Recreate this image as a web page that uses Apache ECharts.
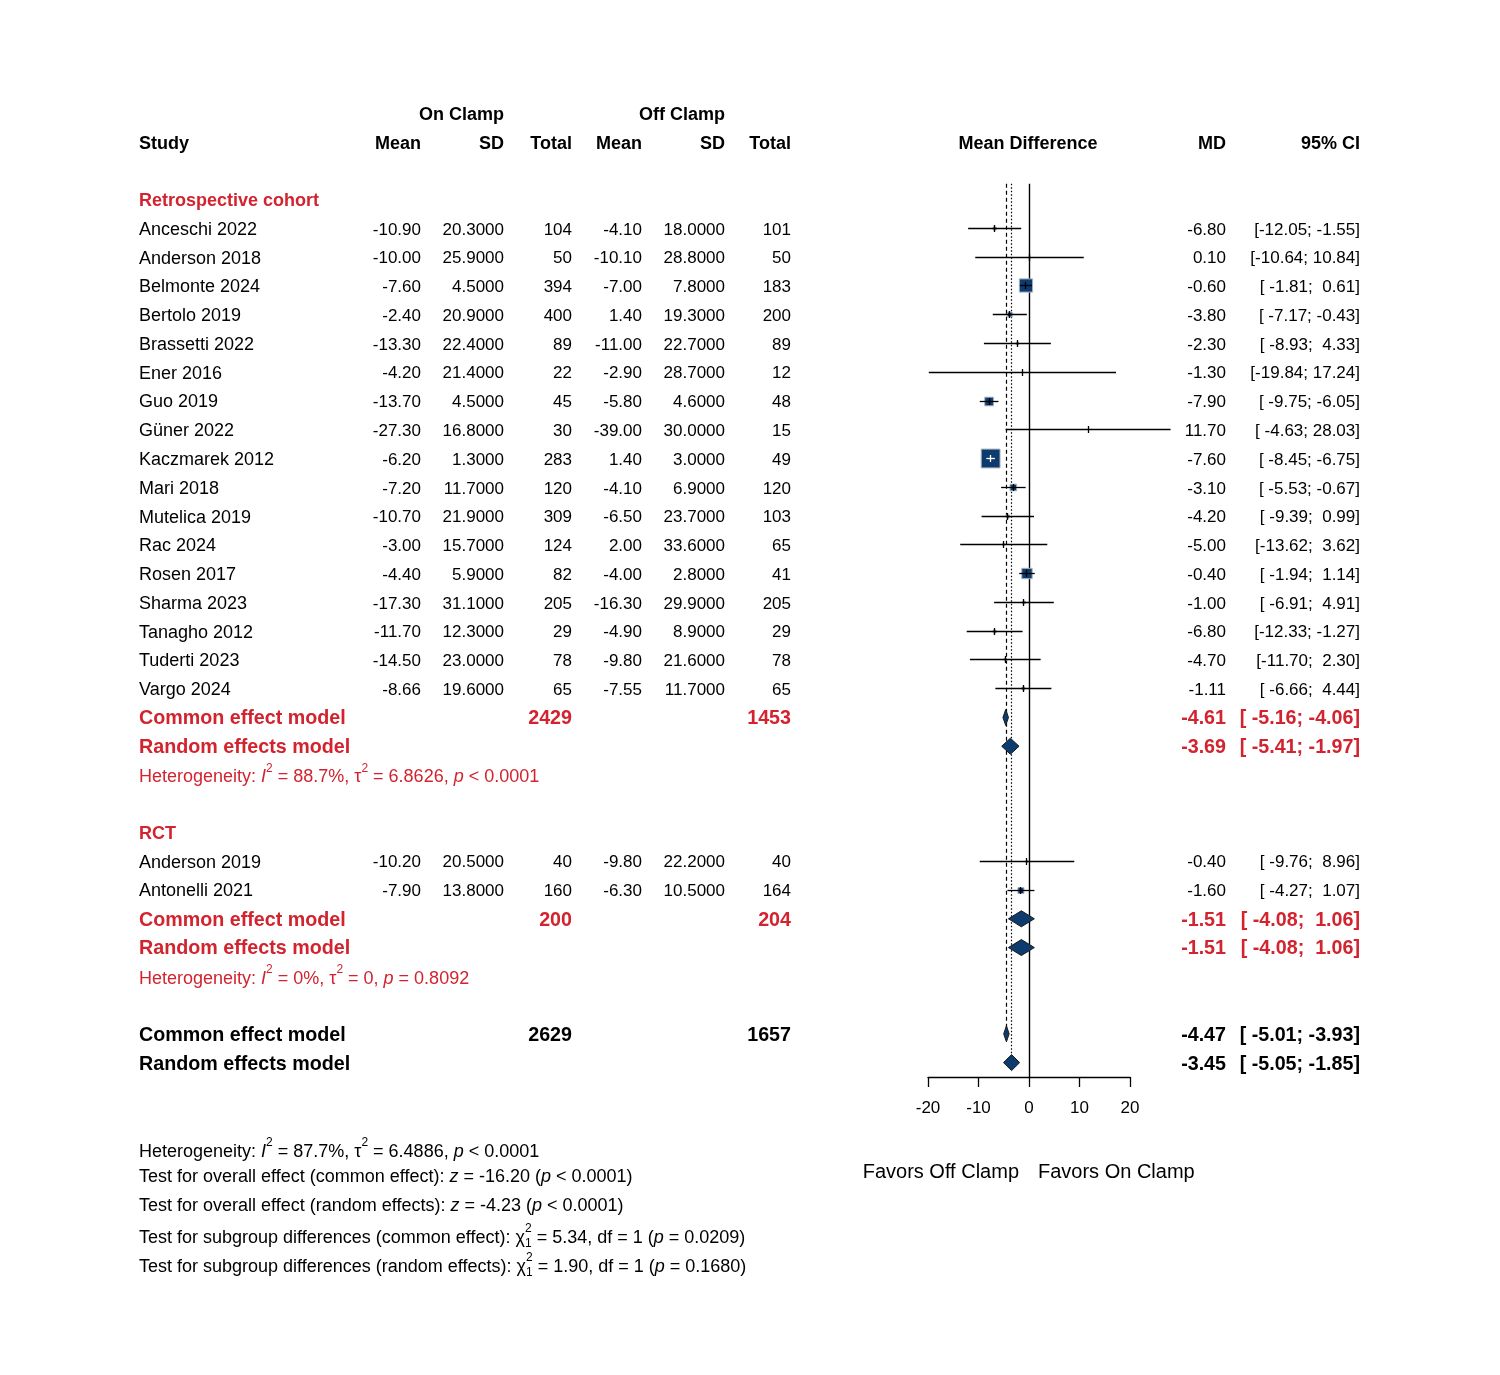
<!DOCTYPE html>
<html>
<head>
<meta charset="utf-8">
<script src="https://cdn.jsdelivr.net/npm/echarts@6/dist/echarts.min.js"></script>
<style>
html, body { margin: 0; background: #fff; }
#main { width: 1500px; height: 1375px; }
</style>
</head>
<body>
<div id="main"></div>
<script>
// ---- data ----
var studies = ['Anceschi 2022', 'Anderson 2018', 'Belmonte 2024', 'Bertolo 2019', 'Brassetti 2022',
  'Ener 2016', 'Guo 2019', 'Güner 2022', 'Kaczmarek 2012', 'Mari 2018', 'Mutelica 2019', 'Rac 2024',
  'Rosen 2017', 'Sharma 2023', 'Tanagho 2012', 'Tuderti 2023', 'Vargo 2024',
  'Anderson 2019', 'Antonelli 2021'];
var studyGroup = [0, 0, 0, 0, 0, 0, 0, 0, 0, 0, 0, 0, 0, 0, 0, 0, 0, 1, 1];
var onMean = [-10.90, -10.00, -7.60, -2.40, -13.30, -4.20, -13.70, -27.30, -6.20, -7.20, -10.70, -3.00,
  -4.40, -17.30, -11.70, -14.50, -8.66, -10.20, -7.90];
var onSD = [20.3, 25.9, 4.5, 20.9, 22.4, 21.4, 4.5, 16.8, 1.3, 11.7, 21.9, 15.7, 5.9, 31.1, 12.3, 23.0,
  19.6, 20.5, 13.8];
var onTotal = [104, 50, 394, 400, 89, 22, 45, 30, 283, 120, 309, 124, 82, 205, 29, 78, 65, 40, 160];
var offMean = [-4.10, -10.10, -7.00, 1.40, -11.00, -2.90, -5.80, -39.00, 1.40, -4.10, -6.50, 2.00,
  -4.00, -16.30, -4.90, -9.80, -7.55, -9.80, -6.30];
var offSD = [18.0, 28.8, 7.8, 19.3, 22.7, 28.7, 4.6, 30.0, 3.0, 6.9, 23.7, 33.6, 2.8, 29.9, 8.9, 21.6,
  11.7, 22.2, 10.5];
var offTotal = [101, 50, 183, 200, 89, 12, 48, 15, 49, 120, 103, 65, 41, 205, 29, 78, 65, 40, 164];
var md = [-6.80, 0.10, -0.60, -3.80, -2.30, -1.30, -7.90, 11.70, -7.60, -3.10, -4.20, -5.00, -0.40,
  -1.00, -6.80, -4.70, -1.11, -0.40, -1.60];
var ciLow = [-12.05, -10.64, -1.81, -7.17, -8.93, -19.84, -9.75, -4.63, -8.45, -5.53, -9.39, -13.62,
  -1.94, -6.91, -12.33, -11.70, -6.66, -9.76, -4.27];
var ciHigh = [-1.55, 10.84, 0.61, -0.43, 4.33, 17.24, -6.05, 28.03, -6.75, -0.67, 0.99, 3.62, 1.14,
  4.91, -1.27, 2.30, 4.44, 8.96, 1.07];

var groupNames = ['Retrospective cohort', 'RCT'];
var modelNames = ['Common effect model', 'Random effects model'];
// [common, random] per group, then overall
var retroMD = [-4.61, -3.69], retroLow = [-5.16, -5.41], retroHigh = [-4.06, -1.97], retroTotals = [2429, 1453];
var rctMD = [-1.51, -1.51], rctLow = [-4.08, -4.08], rctHigh = [1.06, 1.06], rctTotals = [200, 204];
var allMD = [-4.47, -3.45], allLow = [-5.01, -5.05], allHigh = [-3.93, -1.85], allTotals = [2629, 1657];

var hetI2 = ['88.7%', '0%', '87.7%'];
var hetTau2 = ['6.8626', '0', '6.4886'];
var hetP = ['< 0.0001', '= 0.8092', '< 0.0001'];
var testZ = ['-16.20', '-4.23'];
var testP = ['< 0.0001', '< 0.0001'];
var subChi = ['5.34', '1.90'];
var subP = ['0.0209', '0.1680'];

var xTicks = [-20, -10, 0, 10, 20];

// ---- helpers ----
var FONT = '"Liberation Sans", Arial, sans-serif';
var RED = '#d2232e';
var NAVY = '#0d3b6e';

var ctx = document.createElement('canvas').getContext('2d');
function tw(t, size, bold, italic) {
  ctx.font = (italic ? 'italic ' : '') + (bold ? 'bold ' : '') + size + 'px ' + FONT;
  return ctx.measureText(t).width;
}
function snap(v) { return Math.round(v - 0.5) + 0.5; }
function txt(t, x, y, o) {
  o = o || {};
  return {
    type: 'text', x: x, y: y, silent: true,
    style: {
      text: t, fill: o.color || '#000', fontSize: o.size || 18, fontFamily: FONT,
      fontWeight: o.bold ? 'bold' : 'normal', fontStyle: o.italic ? 'italic' : 'normal',
      align: o.align || 'left', verticalAlign: 'middle'
    }
  };
}
// a line of mixed text: kinds n (normal), i (italic), sup, sub, stack (sup that does not advance)
function mixed(x, y, parts, color) {
  var out = [];
  parts.forEach(function (p) {
    var t = p[0], k = p[1] || 'n';
    var small = (k === 'sup' || k === 'sub' || k === 'stack');
    var size = small ? 12 : 18;
    var dy = (k === 'sup' || k === 'stack') ? -9 : (k === 'sub' ? 6 : 0);
    out.push(txt(t, x, y + dy, { size: size, italic: k === 'i', color: color }));
    if (k !== 'stack') x += tw(t, size, false, k === 'i');
  });
  return out;
}
function pad(s, n) { while (s.length < n) s = ' ' + s; return s; }
function fmtCI(lo, hi) { return '[' + pad(lo.toFixed(2), 6) + '; ' + pad(hi.toFixed(2), 5) + ']'; }
function hetParts(g) {
  return [['Heterogeneity: '], ['I', 'i'], ['2', 'sup'], [' = ' + hetI2[g] + ', '], ['τ'], ['2', 'sup'],
    [' = ' + hetTau2[g] + ', '], ['p', 'i'], [' ' + hetP[g]]];
}

// ---- row layout (row index along the hidden y axis) ----
var COL = { study: 139, onMean: 421, onSD: 504, onTot: 572, offMean: 642, offSD: 725, offTot: 791, md: 1226, ci: 1360 };
var tableItems = [];
var studyMarks = [];
var diamonds = [];

tableItems.push({ row: -3, make: function (y) {
  return [txt('On Clamp', COL.onSD, y, { bold: true, align: 'right' }),
    txt('Off Clamp', COL.offSD, y, { bold: true, align: 'right' })];
}});
tableItems.push({ row: -2, make: function (y) {
  var b = { bold: true, align: 'right' };
  return [txt('Study', COL.study, y, { bold: true }),
    txt('Mean', COL.onMean, y, b), txt('SD', COL.onSD, y, b), txt('Total', COL.onTot, y, b),
    txt('Mean', COL.offMean, y, b), txt('SD', COL.offSD, y, b), txt('Total', COL.offTot, y, b),
    txt('Mean Difference', 1028, y, { bold: true, align: 'center' }),
    txt('MD', COL.md, y, b), txt('95% CI', COL.ci, y, b)];
}});

function addModel(row, k, mdv, lo, hi, totals, color) {
  tableItems.push({ row: row, make: function (y) {
    var o = { bold: true, size: 19.7, color: color, align: 'right' };
    var els = [txt(modelNames[k], COL.study, y, { bold: true, size: 19.7, color: color }),
      txt(mdv.toFixed(2), COL.md, y, o), txt(fmtCI(lo, hi), COL.ci, y, o)];
    if (k === 0) {
      els.push(txt(String(totals[0]), COL.onTot, y, o));
      els.push(txt(String(totals[1]), COL.offTot, y, o));
    }
    return els;
  }});
  diamonds.push([mdv, lo, hi, row]);
}

var groupStart = [0, 22];
var groupModels = [[retroMD, retroLow, retroHigh, retroTotals], [rctMD, rctLow, rctHigh, rctTotals]];
[0, 1].forEach(function (g) {
  var r = groupStart[g];
  tableItems.push({ row: r, make: function (y) {
    return [txt(groupNames[g], COL.study, y, { bold: true, color: RED })];
  }});
  studies.forEach(function (name, i) {
    if (studyGroup[i] !== g) return;
    r += 1;
    tableItems.push({ row: r, make: function (y) {
      var n = { size: 17, align: 'right' };
      return [txt(name, COL.study, y),
        txt(onMean[i].toFixed(2), COL.onMean, y, n), txt(onSD[i].toFixed(4), COL.onSD, y, n),
        txt(String(onTotal[i]), COL.onTot, y, n),
        txt(offMean[i].toFixed(2), COL.offMean, y, n), txt(offSD[i].toFixed(4), COL.offSD, y, n),
        txt(String(offTotal[i]), COL.offTot, y, n),
        txt(md[i].toFixed(2), COL.md, y, n), txt(fmtCI(ciLow[i], ciHigh[i]), COL.ci, y, n)];
    }});
    studyMarks.push([md[i], ciLow[i], ciHigh[i], r]);
  });
  var m = groupModels[g];
  addModel(r + 1, 0, m[0][0], m[1][0], m[2][0], m[3], RED);
  addModel(r + 2, 1, m[0][1], m[1][1], m[2][1], m[3], RED);
  tableItems.push({ row: r + 3, make: function (y) { return mixed(COL.study, y + 1, hetParts(g), RED); } });
});
addModel(29, 0, allMD[0], allLow[0], allHigh[0], allTotals, '#000');
addModel(30, 1, allMD[1], allLow[1], allHigh[1], allTotals, '#000');

var refLines = [[0, -0.55, 30.5, 0], [allMD[0], -0.55, 29, 1], [allMD[1], -0.55, 30, 2]];
var refDash = [null, [4, 3], [1.5, 2]];

// ---- notes below the plot ----
var notes = [];
notes = notes.concat(mixed(COL.study, 1152, hetParts(2), '#000'));
notes = notes.concat(mixed(COL.study, 1177, [['Test for overall effect (common effect): '], ['z', 'i'],
  [' = ' + testZ[0] + ' ('], ['p', 'i'], [' ' + testP[0] + ')']], '#000'));
notes = notes.concat(mixed(COL.study, 1206, [['Test for overall effect (random effects): '], ['z', 'i'],
  [' = ' + testZ[1] + ' ('], ['p', 'i'], [' ' + testP[1] + ')']], '#000'));
notes = notes.concat(mixed(COL.study, 1238, [['Test for subgroup differences (common effect): '], ['χ'],
  ['2', 'stack'], ['1', 'sub'], [' = ' + subChi[0] + ', df = 1 ('], ['p', 'i'], [' = ' + subP[0] + ')']], '#000'));
notes = notes.concat(mixed(COL.study, 1267, [['Test for subgroup differences (random effects): '], ['χ'],
  ['2', 'stack'], ['1', 'sub'], [' = ' + subChi[1] + ', df = 1 ('], ['p', 'i'], [' = ' + subP[1] + ')']], '#000'));
notes.push(txt('Favors Off Clamp', 1019, 1172, { size: 20, align: 'right' }));
notes.push(txt('Favors On Clamp', 1038, 1172, { size: 20 }));

// ---- chart ----
var chart = echarts.init(document.getElementById('main'));
chart.setOption({
  animation: false,
  backgroundColor: '#fff',
  grid: { left: 928, right: 370, top: 99, bottom: 298, containLabel: false },
  xAxis: {
    type: 'value', min: xTicks[0], max: xTicks[xTicks.length - 1], interval: 10,
    axisLine: { show: true, onZero: false, lineStyle: { color: '#000', width: 1.3 } },
    axisTick: { show: true, length: 10, lineStyle: { color: '#000', width: 1.3 } },
    axisLabel: { margin: 23, fontSize: 17, color: '#000', fontFamily: FONT },
    splitLine: { show: false }
  },
  yAxis: { type: 'value', inverse: true, min: -3.5, max: 30.5, show: false },
  graphic: { elements: notes },
  series: [
    {
      type: 'custom', clip: false, silent: true, data: refLines, encode: { x: 0, y: [1, 2] },
      renderItem: function (params, api) {
        var a = api.coord([api.value(0), api.value(1)]);
        var b = api.coord([api.value(0), api.value(2)]);
        var d = refDash[api.value(3)];
        var x = snap(a[0]);
        return { type: 'line', shape: { x1: x, y1: a[1], x2: x, y2: b[1] },
          style: { stroke: '#000', lineWidth: d ? 1.2 : 1.4, lineDash: d } };
      }
    },
    {
      type: 'custom', clip: false, silent: true, data: studyMarks, encode: { x: [0, 1, 2], y: 3 },
      renderItem: function (params, api) {
        var est = api.value(0), lo = api.value(1), hi = api.value(2), r = api.value(3);
        var pE = api.coord([est, r]), pL = api.coord([lo, r]), pH = api.coord([hi, r]);
        var side = 32 / (hi - lo);
        var lc = (pH[0] - pL[0]) < 0.8 * side ? '#fff' : '#000';
        var y = snap(pE[1]), x = snap(pE[0]);
        return { type: 'group', children: [
          { type: 'rect', shape: { x: pE[0] - side / 2, y: y - side / 2, width: side, height: side },
            style: { fill: NAVY, stroke: '#a9b2bf', lineWidth: 1 } },
          { type: 'line', shape: { x1: pL[0], y1: y, x2: pH[0], y2: y },
            style: { stroke: lc, lineWidth: 1.3 } },
          { type: 'line', shape: { x1: x, y1: y - 3.5, x2: x, y2: y + 3.5 },
            style: { stroke: lc, lineWidth: 1.3 } }
        ]};
      }
    },
    {
      type: 'custom', clip: false, silent: true, data: diamonds, encode: { x: [0, 1, 2], y: 3 },
      renderItem: function (params, api) {
        var r = api.value(3);
        var pE = api.coord([api.value(0), r]), pL = api.coord([api.value(1), r]), pH = api.coord([api.value(2), r]);
        var y = pE[1];
        return { type: 'polygon',
          shape: { points: [[pL[0], y], [pE[0], y - 8], [pH[0], y], [pE[0], y + 8]] },
          style: { fill: NAVY, stroke: '#1a1a1a', lineWidth: 1 } };
      }
    },
    {
      type: 'custom', clip: false, silent: true,
      data: tableItems.map(function (it) { return [0, it.row]; }),
      encode: { x: 0, y: 1 },
      renderItem: function (params, api) {
        var y = api.coord([0, api.value(1)])[1] + 1.5;
        return { type: 'group', children: tableItems[params.dataIndex].make(y) };
      }
    }
  ]
});
</script>
</body>
</html>
